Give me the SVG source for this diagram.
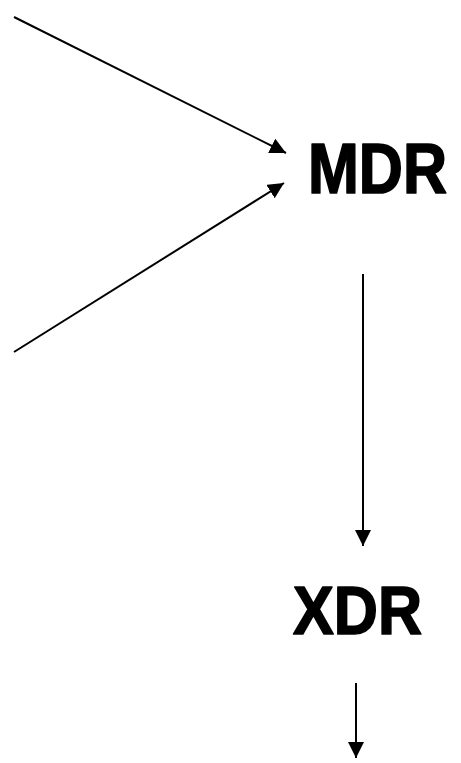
<svg xmlns="http://www.w3.org/2000/svg" width="461" height="763" viewBox="0 0 461 763">
<defs>
<marker id="ah" markerUnits="userSpaceOnUse" markerWidth="16" markerHeight="16" refX="16" refY="8" orient="auto">
<path d="M0,0 L16,8 L0,16 z" fill="#000"/>
</marker>
<style>
.lbl{font-family:"Comic Sans MS","Liberation Sans",Arial,sans-serif;font-weight:bold;font-size:62px;fill:#000;stroke:#000;stroke-width:1.5;stroke-linejoin:round}
.edge{stroke:#000;stroke-width:2;fill:none;marker-end:url(#ah)}
</style>
</defs>
<rect width="461" height="763" fill="#fff"/>
<g id="connectors">
<line class="edge" x1="14" y1="17" x2="286" y2="153"/>
<line class="edge" x1="14" y1="352" x2="284" y2="183"/>
<line class="edge" x1="363" y1="274" x2="363" y2="546"/>
<line class="edge" x1="356" y1="683" x2="356" y2="758"/>
</g>
<g id="node-MDR"><text class="lbl" transform="translate(308,193) scale(1,1.15)" x="0" y="0" textLength="139" lengthAdjust="spacingAndGlyphs">MDR</text></g>
<g id="node-XDR"><text class="lbl" transform="translate(293,634) scale(1,1.12)" x="0" y="0" textLength="129" lengthAdjust="spacingAndGlyphs">XDR</text></g>
</svg>
